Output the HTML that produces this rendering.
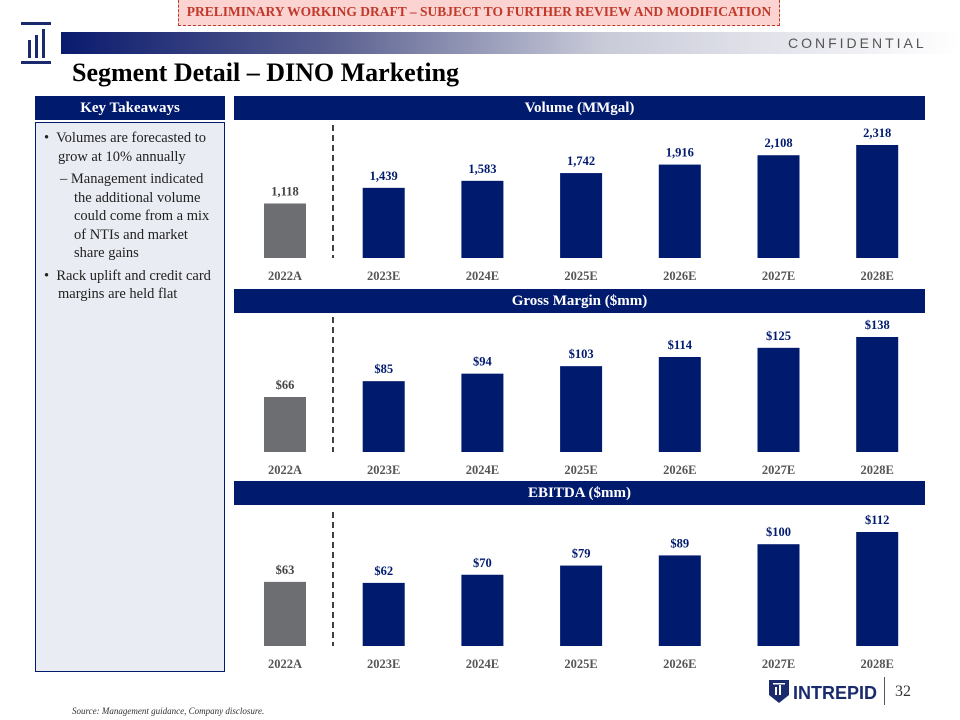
<!DOCTYPE html>
<html><head><meta charset="utf-8">
<style>
body{margin:0;width:960px;height:720px;background:#fff;font-family:"Liberation Serif",serif;position:relative;overflow:hidden}
.abs{position:absolute}
.hdr{position:absolute;background:#001a6e;color:#fff;font-weight:bold;font-size:15px;text-align:center;line-height:24px;height:24px}
</style></head><body>
<div class="abs" style="left:178px;top:0;width:602px;height:26px;background:#fbd3d0;border:1.5px dashed #c0392b;border-top:none;box-sizing:border-box;color:#c0392b;font-weight:bold;font-size:13.5px;text-align:center;line-height:24px">PRELIMINARY WORKING DRAFT – SUBJECT TO FURTHER REVIEW AND MODIFICATION</div>
<svg class="abs" style="left:20px;top:20px" width="34" height="46"><rect x="1" y="2" width="30" height="3" fill="#1a2a6c"/><rect x="1" y="41" width="30" height="3" fill="#1a2a6c"/><rect x="8" y="20" width="3" height="18" fill="#1a2a6c"/><rect x="15" y="15" width="3" height="23" fill="#1a2a6c"/><rect x="22" y="9" width="3" height="29" fill="#1a2a6c"/></svg>
<div class="abs" style="left:61px;top:32px;width:899px;height:22px;background:linear-gradient(90deg,#0a1a6e 0%,#5a6090 30%,#c8cad8 60%,#ffffff 100%)"></div>
<div class="abs" style="left:788px;top:32px;font-family:'Liberation Sans',sans-serif;font-size:14px;letter-spacing:3px;color:#555;line-height:22px">CONFIDENTIAL</div>
<div class="abs" style="left:72px;top:58px;font-size:26px;font-weight:bold;color:#000">Segment Detail – DINO Marketing</div>
<div class="hdr" style="left:35px;top:96px;width:190px">Key Takeaways</div>
<div class="abs" style="left:35px;top:122px;width:190px;height:550px;background:#e9ecf2;border:1.5px solid #001a6e;box-sizing:border-box;font-size:14.5px;color:#222;line-height:18.5px;padding:6px 8px 0 8px">
<div style="padding-left:14px;text-indent:-14px">•&nbsp; Volumes are forecasted to grow at 10% annually</div>
<div style="padding-left:30px;text-indent:-14px;margin-top:4px">– Management indicated the additional volume could come from a mix of NTIs and market share gains</div>
<div style="padding-left:14px;text-indent:-14px;margin-top:4px">•&nbsp; Rack uplift and credit card margins are held flat</div>
</div>
<div class="hdr" style="left:234px;top:96px;width:691px">Volume (MMgal)</div>
<div class="hdr" style="left:234px;top:289px;width:691px">Gross Margin ($mm)</div>
<div class="hdr" style="left:234px;top:481px;width:691px">EBITDA ($mm)</div>
<svg id="charts" class="abs" style="left:0;top:0" width="960" height="720"></svg>
<svg class="abs" style="left:767px;top:677px" width="115" height="30"><path d="M2 3h20v15l-10 8-10-8z" fill="#1a2a6c"/><rect x="8" y="10" width="2" height="8" fill="#fff"/><rect x="12" y="8" width="2" height="10" fill="#fff"/><rect x="6" y="6" width="12" height="1.5" fill="#fff"/><text x="26" y="22" font-family="Liberation Sans,sans-serif" font-weight="bold" font-size="18" fill="#1a2a6c">INTREPID</text></svg>
<div class="abs" style="left:884px;top:677px;width:1px;height:28px;background:#555"></div>
<div class="abs" style="left:895px;top:683px;font-size:16px;color:#333">32</div>
<div class="abs" style="left:72px;top:706px;font-size:9px;font-style:italic;color:#333">Source: Management guidance, Company disclosure.</div>
<script>
const categories=["2022A","2023E","2024E","2025E","2026E","2027E","2028E"];
const volumeValues=[1118,1439,1583,1742,1916,2108,2318];
const volumeLabels=["1,118","1,439","1,583","1,742","1,916","2,108","2,318"];
const marginValues=[66,85,94,103,114,125,138];
const marginLabels=["$66","$85","$94","$103","$114","$125","$138"];
const ebitdaValues=[63,62,70,79,89,100,112];
const ebitdaLabels=["$63","$62","$70","$79","$89","$100","$112"];
const NS="http://www.w3.org/2000/svg";
const svg=document.getElementById('charts');
function mk(t,a){const e=document.createElementNS(NS,t);for(const k in a)e.setAttribute(k,a[k]);svg.appendChild(e);return e;}
function chart(name,vals,labels,base,topY){
  const max=Math.max(...vals);
  const y=v=>base-v/max*(base-topY);
  const x=i=>285+i*98.7;
  const d=mk('line',{x1:333,x2:333,y1:topY-20,y2:base,stroke:'#000','stroke-width':1.5,'stroke-dasharray':'6,4'});
  
  vals.forEach((v,i)=>{
    const r=mk('rect',{x:x(i)-21,y:y(v),width:42,height:base-y(v),fill:i==0?'#6d6e71':'#001a6e'});
    
    
    const t=mk('text',{x:x(i),y:y(v)-8,'text-anchor':'middle','font-size':12.5,'font-weight':'bold',fill:i==0?'#444':'#001a6e','font-family':'Liberation Serif,serif'});
    t.textContent=labels[i];
    
    
    const c=mk('text',{x:x(i),y:base+22,'text-anchor':'middle','font-size':12.5,'font-weight':'bold',fill:'#555','font-family':'Liberation Serif,serif'});
    c.textContent=categories[i];
    
    
  });
}
chart('volume',volumeValues,volumeLabels,258,145);
chart('gross-margin',marginValues,marginLabels,452,337);
chart('ebitda',ebitdaValues,ebitdaLabels,646,532);
</script>
</body></html>
